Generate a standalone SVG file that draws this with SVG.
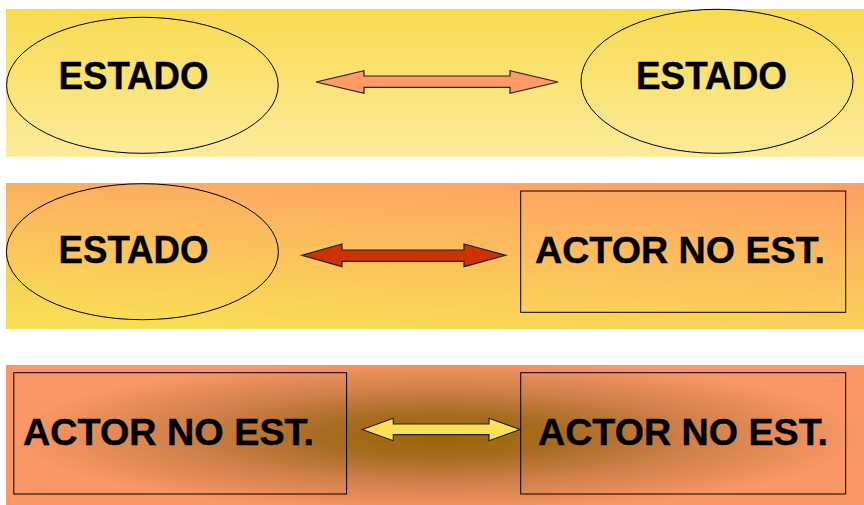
<svg xmlns="http://www.w3.org/2000/svg" width="864" height="505" viewBox="0 0 864 505">
<defs>
<linearGradient id="g1" x1="0" y1="0" x2="0" y2="1">
<stop offset="0" stop-color="#F9DB50"/>
<stop offset="1" stop-color="#FCEB9C"/>
</linearGradient>
<linearGradient id="g2" x1="0.3" y1="1" x2="0.7" y2="-0.2">
<stop offset="0" stop-color="#F9DD55"/>
<stop offset="1" stop-color="#FF9966"/>
</linearGradient>
<radialGradient id="g3" cx="440" cy="436" r="420" gradientUnits="userSpaceOnUse" gradientTransform="translate(440 436) scale(1 0.18) translate(-440 -436)">
<stop offset="0" stop-color="#996600"/>
<stop offset="0.3" stop-color="#A86C22"/>
<stop offset="0.6" stop-color="#CE7F48"/>
<stop offset="1" stop-color="#F99766"/>
</radialGradient>
</defs>
<style>
.shape{fill:none;stroke:#000;stroke-width:1}
.lbl{font-family:"Liberation Sans",Arial,sans-serif;font-weight:bold;fill:#000;text-anchor:middle;stroke:#000;stroke-width:0.4}
.e{font-size:38px}
.a{font-size:37px}
.arr{stroke:#222;stroke-width:1.2;stroke-linejoin:miter}
</style>
<rect x="6" y="9" width="858" height="148" fill="url(#g1)"/>
<rect x="6" y="183" width="858" height="146" fill="url(#g2)"/>
<rect x="6" y="365" width="858" height="140" fill="#F99766"/>
<rect x="6" y="365" width="858" height="140" fill="url(#g3)"/>
<g id="n1"><ellipse class="shape" cx="142.4" cy="85.3" rx="135.8" ry="68"/><text class="lbl e" x="133.5" y="89.3" textLength="150" lengthAdjust="spacingAndGlyphs">ESTADO</text></g>
<g id="n2"><ellipse class="shape" cx="717" cy="81.3" rx="136" ry="72"/><text class="lbl e" x="711.5" y="89.3" textLength="151" lengthAdjust="spacingAndGlyphs">ESTADO</text></g>
<g id="n3"><ellipse class="shape" cx="142.4" cy="251.7" rx="136" ry="68"/><text class="lbl e" x="133.5" y="263.3" textLength="150" lengthAdjust="spacingAndGlyphs">ESTADO</text></g>
<g id="n4"><rect class="shape" x="520.7" y="191" width="325" height="121.3"/><text class="lbl a" x="680" y="263" textLength="290" lengthAdjust="spacingAndGlyphs">ACTOR NO EST.</text></g>
<g id="n5"><rect class="shape" x="13.8" y="372.7" width="332.8" height="121.3"/><text class="lbl a" x="168.5" y="445" textLength="291" lengthAdjust="spacingAndGlyphs">ACTOR NO EST.</text></g>
<g id="n6"><rect class="shape" x="520.7" y="372.7" width="325" height="121.3"/><text class="lbl a" x="683" y="445" textLength="290" lengthAdjust="spacingAndGlyphs">ACTOR NO EST.</text></g>
<g id="connectors">
<polygon class="arr" fill="#FF9966" points="316,82 364,70.7 364,76 510,76 510,70.7 558,82 510,93.3 510,87.3 364,87.3 364,93.3"/>
<polygon class="arr" fill="#CC3300" points="301.7,255.3 342,244 342,250 464,250 464,244 505.7,255.3 464,266.7 464,261.3 342,261.3 342,266.7"/>
<polygon class="arr" fill="#FDE055" points="362.3,429.5 393.3,418.3 393.3,424 489,424 489,418.3 520,429.5 489,440.7 489,434.7 393.3,434.7 393.3,440.7"/>
</g>
</svg>
